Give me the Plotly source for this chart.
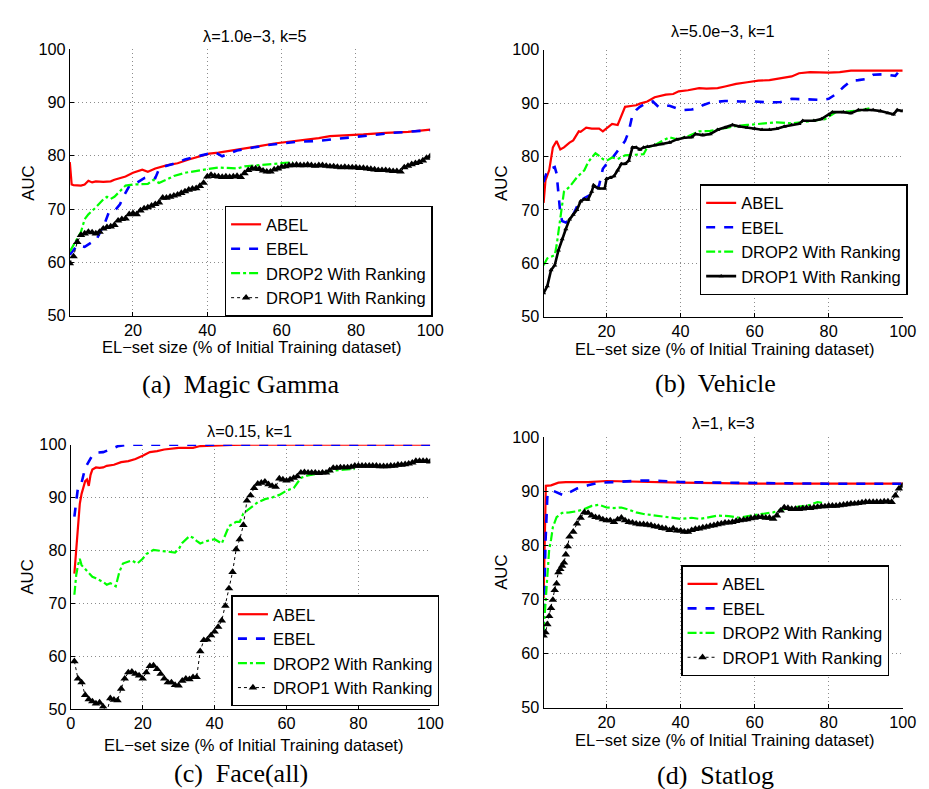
import plotly.graph_objects as go

W, H = 929, 789

# ---------------- data ----------------
series_names = ["ABEL", "EBEL", "DROP2 With Ranking", "DROP1 With Ranking"]
panel_titles = ["λ=1.0e−3, k=5", "λ=5.0e−3, k=1", "λ=0.15, k=1", "λ=1, k=3"]
panel_captions = ["(a)  Magic Gamma", "(b)  Vehicle", "(c)  Face(all)", "(d)  Statlog"]
x_label = "EL−set size (% of Initial Training dataset)"
y_label = "AUC"
y_ticks = [50, 60, 70, 80, 90, 100]
x_ticks_short = [20, 40, 60, 80, 100]
x_ticks_full = [0, 20, 40, 60, 80, 100]

# (a) Magic Gamma
a_abel_x = [3, 3.5, 4, 5, 6, 7, 8, 9, 10, 12, 14, 15, 18, 20, 22.5, 24, 26, 29, 32, 35,
            38, 40.5, 43, 46, 50, 54, 58, 62, 66, 70, 73, 78, 82, 88, 94, 100]
a_abel_y = [78.8, 74.6, 74.5, 74.5, 74.4, 74.6, 75.3, 75.0, 75.2, 75.1, 75.2, 75.5, 76.1, 76.8, 77.4, 77.0, 77.6, 78.2, 78.6, 79.3,
            79.9, 80.4, 80.6, 80.9, 81.3, 81.8, 82.3, 82.6, 82.9, 83.3, 83.7, 83.8, 84.0, 84.3, 84.5, 84.9]
a_ebel_x = [3, 5, 7, 9, 10, 11, 12.5, 13.5, 15, 16.5, 17.5, 19, 21, 23, 25, 26, 27, 28, 31, 34,
            38, 42, 44, 48, 52, 56, 60, 64, 70, 76, 80, 86, 90, 95, 100]
a_ebel_y = [61.4, 63.2, 62.9, 63.8, 64.0, 65.4, 67.5, 69.4, 69.6, 70.9, 72.4, 74.3, 74.9, 75.8, 76.1, 75.8, 77.5, 77.9, 78.5, 79.3,
            80.0, 80.7, 79.9, 81.0, 81.5, 82.0, 82.3, 82.6, 82.8, 83.3, 83.5, 84.0, 84.3, 84.6, 84.8]
a_drop2_x = [3, 5, 6, 7, 8, 10, 12, 13, 14, 15, 16.5, 18, 20, 22, 24, 25.5, 27, 29, 31, 34,
             37, 40, 43, 46, 48, 50, 54, 57, 60, 63]
a_drop2_y = [62.0, 64.5, 65.7, 68.1, 69.0, 70.3, 71.8, 72.3, 71.9, 72.3, 73.3, 74.4, 74.6, 74.6, 74.7, 75.5, 74.9, 75.5, 76.2, 76.8,
             77.2, 77.5, 77.8, 77.6, 77.6, 78.0, 78.2, 78.4, 78.6, 78.8]
a_drop1_x = list(range(3, 101))
a_drop1_y = [59.8, 61.1, 63.8, 65.1, 65.4, 65.7, 65.6, 65.4, 65.7, 66.3,
             66.6, 66.7, 67.0, 67.8, 68.1, 68.2, 69.0, 69.2, 69.0, 69.7,
             70.1, 70.3, 70.6, 70.9, 71.2, 72.1, 72.1, 72.3, 72.5, 72.7,
             73.0, 73.3, 73.6, 73.8, 73.9, 74.3, 74.9, 76.1, 76.4, 76.2,
             76.1, 76.0, 76.1, 76.0, 76.1, 76.2, 76.0, 76.7, 77.3, 77.6,
             77.6, 77.5, 77.2, 77.0, 77.0, 77.4, 77.6, 77.9, 78.0, 78.2,
             78.2, 78.3, 78.2, 78.2, 78.3, 78.2, 78.1, 78.2, 78.2, 78.1,
             78.0, 78.0, 77.9, 77.8, 77.9, 77.8, 77.8, 77.8, 77.7, 77.7,
             77.6, 77.5, 77.4, 77.3, 77.3, 77.3, 77.2, 77.1, 77.1, 77.0,
             77.8, 78.1, 78.4, 78.6, 78.8, 79.1, 79.6, 79.9]

# (b) Vehicle
b_abel_x = [3, 3.5, 4.5, 5.5, 6.5, 7.5, 8.5, 10, 11, 12.5, 13, 14.5, 16, 18, 19, 20, 21.5, 23, 24, 25,
            27, 28, 29, 31, 33, 36, 38, 39.5, 42, 45, 47, 50, 52, 55, 58, 61, 64, 67, 70, 72,
            75, 80, 83, 86, 90, 100]
b_abel_y = [71.3, 75.5, 77.4, 81.7, 82.9, 81.3, 81.7, 82.6, 83.0, 84.7, 84.6, 85.4, 85.2, 85.2, 84.7, 85.3, 86.1, 85.9, 87.5, 89.3,
            89.5, 89.6, 89.9, 90.3, 91.1, 91.6, 91.7, 92.2, 92.4, 92.8, 92.7, 92.8, 93.1, 93.6, 93.9, 94.2, 94.3, 94.7, 95.0, 95.6,
            95.8, 95.7, 95.8, 96.1, 96.1, 96.1]
b_ebel_x = [3, 4, 5, 6, 6.5, 7, 7.5, 8, 9, 10, 11, 12, 13, 14, 15, 16.5, 18, 19, 20, 21,
            22, 23, 24, 25, 26, 27, 28, 29, 31, 32.5, 34, 35, 37, 39, 41, 43, 45, 46, 48, 52,
            56, 60, 64, 67, 70, 73, 78, 80, 82, 84, 86, 88, 90, 92, 95, 98, 99, 100]
b_ebel_y = [75.2, 77.4, 77.7, 78.0, 76.8, 73.7, 69.4, 67.9, 67.6, 68.2, 69.1, 70.6, 71.7, 72.2, 72.5, 73.1, 74.6, 77.7, 78.6, 79.2,
            80.1, 81.0, 82.0, 82.9, 84.7, 87.8, 88.7, 89.3, 90.1, 90.3, 89.3, 89.5, 89.5, 89.0, 88.7, 88.8, 89.1, 89.6, 90.1, 90.4,
            90.3, 90.3, 90.1, 90.2, 90.8, 90.7, 90.6, 90.8, 91.7, 93.0, 94.2, 94.3, 94.5, 95.3, 95.4, 95.1, 96.0, 96.8]
b_drop2_x = [3, 4, 5, 6, 6.5, 7, 7.5, 8, 8.5, 10, 12, 14, 15, 16, 17, 18, 19, 20, 21.5, 23,
             24, 25, 27, 30, 31, 33, 35, 37, 39, 42, 45, 48, 52, 55, 58, 62, 66, 70, 73, 76,
             79, 82, 85, 88, 91]
b_drop2_y = [59.6, 60.9, 61.2, 61.5, 63.3, 65.7, 68.2, 71.3, 73.4, 74.3, 76.1, 77.4, 78.9, 79.8, 80.6, 80.1, 79.5, 79.2, 79.8, 79.5,
             79.8, 80.2, 80.3, 80.4, 81.7, 82.1, 82.9, 83.6, 83.2, 83.8, 84.7, 84.8, 85.3, 85.7, 85.9, 86.2, 86.4, 86.2, 86.4, 86.7,
             87.0, 88.3, 88.4, 88.6, 89.0]
b_drop1_x = [3, 4, 5, 6, 7, 8, 9, 10, 11, 12, 13, 14, 15, 16, 16.5, 17, 18, 19.5, 20, 21,
             22, 23, 24, 25, 26, 27, 28, 29, 30, 31, 33, 35, 37, 39, 41, 43, 44, 46, 48, 50,
             52, 54, 56, 58, 60, 62, 64, 66, 68, 70, 72, 73, 76, 78, 80, 81, 84, 86, 88, 90,
             92, 94, 96, 97.5, 98.5, 100]
b_drop1_y = [54.4, 55.7, 58.7, 59.6, 62.4, 64.5, 66.4, 68.2, 69.1, 70.0, 71.6, 72.0, 71.9, 73.4, 74.6, 74.3, 74.0, 74.0, 75.8, 76.0,
             76.3, 77.4, 78.6, 78.6, 79.2, 81.7, 81.7, 81.3, 81.7, 81.8, 82.1, 82.3, 82.6, 83.2, 83.5, 83.6, 84.2, 84.0, 84.2, 85.0,
             85.4, 85.9, 85.6, 85.4, 85.2, 85.0, 85.0, 85.2, 85.6, 85.9, 86.1, 86.7, 86.7, 87.0, 87.8, 88.3, 88.3, 88.1, 88.7, 88.7,
             88.7, 88.5, 88.1, 87.9, 88.7, 88.5]

# (c) Face(all)
c_abel_x = [1, 1.5, 2, 2.5, 3, 3.5, 4, 4.5, 5, 5.5, 6, 7, 8, 9, 10, 12, 14, 16, 18, 20,
            22, 24, 26, 30, 34, 36, 40, 45, 50, 100]
c_abel_y = [75.6, 80.2, 85.1, 88.8, 90.7, 92.2, 93.1, 93.4, 92.2, 94.3, 95.3, 95.7, 95.6, 95.7, 96.0, 96.2, 96.7, 96.9, 97.3, 97.9,
            98.6, 98.8, 99.1, 99.4, 99.4, 99.75, 99.9, 99.95, 100, 100]
c_ebel_x = [1, 1.5, 2, 3, 4, 5, 6, 7, 9, 11, 13, 15, 17, 100]
c_ebel_y = [86.4, 89.4, 91.9, 92.8, 95.6, 96.8, 98.0, 98.5, 98.6, 99.1, 99.7, 99.9, 100, 100]
c_drop2_x = [1, 1.5, 2, 2.5, 3, 4, 5, 6, 7, 8, 9, 10, 11, 12.5, 13.5, 14.5, 16, 17, 18.5, 20,
             21, 23, 25, 27, 29, 30, 31, 33, 34, 35, 36, 38, 40, 42, 43, 44, 46, 47, 48, 50,
             52, 54, 56, 58, 60, 62, 63, 64, 66, 70, 73, 76, 79]
c_drop2_y = [71.6, 75.3, 77.2, 78.4, 77.2, 76.5, 75.6, 75.0, 74.7, 74.4, 74.0, 73.5, 73.8, 73.2, 75.9, 77.5, 77.8, 78.1, 77.5, 78.4,
             79.3, 80.1, 79.9, 79.7, 79.6, 80.2, 81.4, 82.7, 82.4, 81.8, 81.3, 81.8, 82.1, 81.3, 83.0, 84.6, 85.4, 85.4, 87.0, 88.1,
             89.1, 89.7, 90.0, 90.5, 91.3, 91.8, 92.8, 93.7, 94.2, 94.7, 95.1, 95.3, 95.4]
c_drop1_x = list(range(1, 101))
c_drop1_y = [59.0, 55.7, 55.0, 52.6, 51.8, 51.4, 51.0, 51.2, 50.4, 49.3,
             52.0, 51.7, 51.6, 53.8, 55.7, 56.9, 57.0, 56.6, 56.3, 55.7,
             56.9, 58.1, 58.2, 57.5, 56.6, 55.7, 55.0, 55.0, 54.5, 54.4,
             55.3, 55.7, 55.6, 56.0, 56.0, 60.9, 63.0, 63.1, 63.9, 64.6,
             65.5, 66.7, 69.5, 72.8, 75.9, 80.2, 82.1, 84.8, 89.4, 90.4,
             91.8, 92.6, 92.8, 93.0, 92.5, 92.2, 92.0, 93.6, 93.4, 93.2,
             93.4, 93.7, 94.0, 94.7, 94.8, 94.7, 94.7, 94.7, 94.6, 94.7,
             94.7, 95.1, 95.6, 95.6, 95.7, 95.7, 95.7, 95.8, 96.0, 96.0,
             96.0, 96.0, 96.0, 96.0, 96.0, 95.9, 95.9, 95.9, 96.0, 96.0,
             96.2, 96.2, 96.3, 96.4, 96.6, 96.9, 96.9, 96.9, 96.9, 96.8]

# (d) Statlog
d_abel_x = [3, 3.3, 3.6, 5, 7, 9, 15, 20, 30, 40, 60, 100]
d_abel_y = [70.2, 83.4, 91.0, 91.1, 91.6, 91.7, 91.7, 91.9, 91.7, 91.6, 91.4, 91.4]
d_ebel_x = [3, 3.5, 4, 4.5, 5.5, 7, 8.5, 10, 12, 15, 18, 22, 26, 30, 35, 40, 50, 60, 80, 100]
d_ebel_y = [64.2, 80.4, 88.9, 89.8, 90.1, 89.6, 89.2, 89.8, 90.5, 91.1, 91.6, 91.7, 91.9, 92.0, 91.9, 91.7, 91.6, 91.5, 91.4, 91.4]
d_drop2_x = [3, 3.5, 4, 4.5, 5, 5.5, 6.5, 8, 10, 12, 14, 16, 18, 20, 22, 24, 26, 28, 30, 33,
             36, 40, 43, 45, 47, 50, 53, 56, 59, 62, 65, 68, 70, 73, 75, 77, 79]
d_drop2_y = [64.2, 69.0, 75.0, 79.2, 81.0, 83.4, 85.2, 86.0, 86.1, 86.3, 86.7, 87.3, 87.5, 87.0, 86.9, 87.0, 86.6, 86.1, 85.8, 85.5,
             85.2, 84.9, 85.1, 84.9, 85.1, 85.5, 85.4, 85.1, 85.5, 85.8, 86.1, 86.7, 86.9, 87.2, 87.5, 88.0, 87.8]
d_drop1_x = [3, 3.5, 4, 4.5, 5, 5.5, 6, 6.5, 7, 7.5, 8, 8.5, 9, 9.5, 10] + list(range(11, 101))
d_drop1_y = [63.3, 63.9, 65.4, 66.9, 68.4, 69.9, 71.7, 72.9, 75.0, 75.6, 76.2, 76.8, 78.3, 79.8, 81.6,
             82.5, 84.0, 85.1, 86.1, 86.0, 85.5, 85.2, 85.1, 84.8, 84.6,
             84.6, 84.3, 84.8, 85.1, 84.6, 84.3, 84.2, 84.0, 83.9, 83.9,
             83.8, 83.7, 83.5, 83.4, 83.2, 83.1, 82.8, 83.1, 82.7, 82.7,
             82.5, 82.5, 82.8, 83.0, 83.1, 83.3, 83.4, 83.6, 83.7, 83.9,
             84.0, 84.2, 84.2, 84.3, 84.5, 84.6, 84.7, 84.8, 85.0, 85.1,
             85.2, 85.2, 85.1, 85.1, 84.9, 85.5, 86.4, 87.0, 86.9, 86.7,
             86.7, 86.7, 86.8, 86.9, 86.9, 87.0, 87.1, 87.2, 87.2, 87.3,
             87.3, 87.3, 87.4, 87.5, 87.6, 87.7, 87.7, 87.8, 87.9, 88.0,
             88.0, 88.0, 88.0, 88.0, 88.1, 88.1, 88.0, 89.2, 90.5, 91.0]

panels = [
    [(a_abel_x, a_abel_y), (a_ebel_x, a_ebel_y), (a_drop2_x, a_drop2_y), (a_drop1_x, a_drop1_y)],
    [(b_abel_x, b_abel_y), (b_ebel_x, b_ebel_y), (b_drop2_x, b_drop2_y), (b_drop1_x, b_drop1_y)],
    [(c_abel_x, c_abel_y), (c_ebel_x, c_ebel_y), (c_drop2_x, c_drop2_y), (c_drop1_x, c_drop1_y)],
    [(d_abel_x, d_abel_y), (d_ebel_x, d_ebel_y), (d_drop2_x, d_drop2_y), (d_drop1_x, d_drop1_y)],
]
x_ranges = [[3, 100], [3, 100], [0, 100], [3, 100]]

# ---------------- layout geometry (pixels) ----------------
def px(xp):
    return xp / W

def py(yp):
    return 1 - yp / H

# plot boxes: left, right, top, bottom in pixels
boxes = [(58, 426, 33, 305.5), (541.7, 908.3, 33.5, 306.5), (59, 426, 437.7, 708), (541.7, 908.3, 430, 706.7)]
title_pos = [(247, 19), (725, 14), (241, 424), (725, 415)]
xlabel_pos = [(243, 338), (726, 340), (246, 745), (726, 740)]
ylabel_pos = [(15, 170), (498, 170), (15, 573), (498, 568)]
caption_pos = [(233, 376), (717, 375), (233, 774), (717, 776)]
legend_pos = [(216, 193), (701, 171), (223, 592), (682, 561)]

SANS = "Liberation Sans, Arial, Helvetica, sans-serif"
SERIF = "Liberation Serif, Times New Roman, serif"
GRID = dict(showgrid=True, gridcolor="#8c8c8c", griddash="1px,3px", gridwidth=1)

fig = go.Figure()

for p in range(4):
    xa = "x" if p == 0 else f"x{p+1}"
    ya = "y" if p == 0 else f"y{p+1}"
    lg = "legend" if p == 0 else f"legend{p+1}"
    styles = [
        dict(mode="lines", line=dict(color="#ff0000", width=2.2)),
        dict(mode="lines", line=dict(color="#0000ff", width=2.6, dash="dash")),
        dict(mode="lines", line=dict(color="#00ff00", width=2.2, dash="dashdot")),
    ]
    if p == 1:
        styles.append(dict(mode="lines+markers", line=dict(color="black", width=2.6),
                           marker=dict(symbol="triangle-up", size=4.5, color="black")))
    else:
        styles.append(dict(mode="lines+markers", line=dict(color="black", width=1, dash="dot"),
                           marker=dict(symbol="triangle-up", size=7.5, color="black")))
    for s, (name, (xs, ys)) in enumerate(zip(series_names, panels[p])):
        fig.add_trace(go.Scatter(x=xs, y=ys, name=name, xaxis=xa, yaxis=ya, legend=lg,
                                 showlegend=True, **styles[s]))

layout = dict(width=W, height=H, margin=dict(l=0, r=0, t=0, b=0),
              paper_bgcolor="white", plot_bgcolor="white",
              font=dict(family=SANS, size=16.5, color="black"))
annotations = []
for p in range(4):
    l, r, t, b = boxes[p]
    suffix = "" if p == 0 else str(p + 1)
    ticks = x_ticks_full if p == 2 else x_ticks_short
    layout["xaxis" + suffix] = dict(
        domain=[px(l), px(r)], range=x_ranges[p], anchor="y" + suffix,
        tickvals=ticks, ticks="inside", ticklen=4, tickcolor="black",
        showline=True, linecolor="black", linewidth=1, mirror=False,
        zeroline=False, tickfont=dict(size=16.3, family=SANS, color="black"), **GRID)
    layout["yaxis" + suffix] = dict(
        domain=[py(b), py(t)], range=[50, 100], anchor="x" + suffix,
        tickvals=y_ticks, ticks="inside", ticklen=4, tickcolor="black",
        showline=True, linecolor="black", linewidth=1, mirror=False,
        zeroline=False, tickfont=dict(size=16.3, family=SANS, color="black"), **GRID)
    lx, ly = legend_pos[p]
    layout["legend" + suffix] = dict(
        x=px(lx), y=py(ly), xanchor="left", yanchor="top",
        bgcolor="white", bordercolor="black", borderwidth=1.5,
        font=dict(size=16.5, family=SANS, color="black"),
        tracegroupgap=0, itemwidth=30)
    tx, ty = title_pos[p]
    annotations.append(dict(text=panel_titles[p], x=px(tx), y=py(ty), xref="paper", yref="paper",
                            showarrow=False, xanchor="center", yanchor="middle",
                            font=dict(size=16.3, family=SANS)))
    tx, ty = xlabel_pos[p]
    annotations.append(dict(text=x_label, x=px(tx), y=py(ty), xref="paper", yref="paper",
                            showarrow=False, xanchor="center", yanchor="middle",
                            font=dict(size=16.5, family=SANS)))
    tx, ty = ylabel_pos[p]
    annotations.append(dict(text=y_label, x=px(tx), y=py(ty), xref="paper", yref="paper",
                            showarrow=False, xanchor="center", yanchor="middle", textangle=-90,
                            font=dict(size=16.8, family=SANS)))
    tx, ty = caption_pos[p]
    annotations.append(dict(text=panel_captions[p], x=px(tx), y=py(ty), xref="paper", yref="paper",
                            showarrow=False, xanchor="center", yanchor="middle",
                            font=dict(size=26, family=SERIF)))
layout["annotations"] = annotations
fig.update_layout(**layout)

fig.write_html("out.html")
